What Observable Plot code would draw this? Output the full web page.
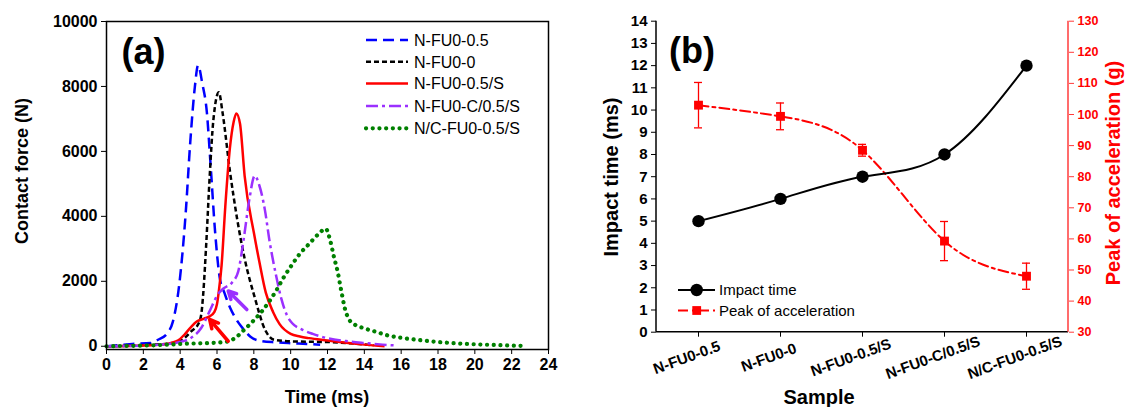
<!DOCTYPE html>
<html><head><meta charset="utf-8">
<script src="https://cdn.jsdelivr.net/npm/d3@7"></script>
<script src="https://cdn.jsdelivr.net/npm/@observablehq/plot@0.6"></script>
<style>
body{margin:0;background:#fff;}
#wrap{position:relative;width:1126px;height:407px;overflow:hidden;font-family:"Liberation Sans",Arial,sans-serif;}
#wrap svg{position:absolute;top:0;}
</style></head><body><div id="wrap"></div>
<script>
// ---------- Panel (a): contact force vs time ----------
const seriesNames = ["N-FU0-0.5", "N-FU0-0", "N-FU0-0.5/S", "N-FU0-C/0.5/S", "N/C-FU0-0.5/S"];

const timeBlue  = [0, 1.4, 2.4, 2.8, 3.3, 3.6, 3.95, 4.3, 4.55, 4.8, 4.97, 5.2, 5.45, 5.65, 5.9, 6.15, 6.4, 6.7, 7.0, 7.4, 7.8, 8.4, 9.2, 10.2, 11.6];
const forceBlue = [0, 70, 100, 200, 400, 750, 1900, 4100, 6300, 8000, 8650, 8100, 7200, 5600, 3500, 2100, 1650, 1200, 870, 550, 300, 160, 120, 90, 50];

const timeBlack  = [0, 1.5, 2.5, 3.3, 4.0, 4.6, 5.0, 5.15, 5.25, 5.42, 5.6, 5.8, 6.1, 6.3, 6.7, 7.1, 7.5, 8.05, 8.6, 9.1, 10, 11, 12, 13, 14.5];
const forceBlack = [0, 20, 50, 80, 160, 460, 700, 1000, 1600, 3200, 5200, 6950, 7820, 7200, 5400, 3900, 2700, 1500, 520, 200, 150, 140, 130, 100, 30];

const timeRed  = [0, 2, 3, 3.5, 3.9, 4.25, 4.6, 4.9, 5.3, 5.6, 5.85, 6.0, 6.1, 6.25, 6.45, 6.7, 6.9, 7.05, 7.25, 7.5, 8.0, 8.3, 8.65, 9.05, 9.4, 10.0, 10.5, 11.0, 12.0, 13.0, 14.0, 15.1];
const forceRed = [0, 20, 50, 100, 180, 370, 600, 760, 850, 920, 1050, 1300, 1700, 2500, 4300, 6100, 6900, 7170, 6850, 5250, 3500, 2600, 1650, 1050, 680, 380, 300, 250, 180, 110, 50, 0];

const timePurple  = [0, 2, 3, 3.7, 4.2, 4.6, 5.15, 5.6, 6.05, 6.35, 6.8, 7.15, 7.45, 7.75, 8.05, 8.3, 8.6, 8.85, 9.2, 9.5, 9.8, 10.1, 10.6, 11.2, 11.9, 13.0, 14.0, 15.0, 15.8];
const forcePurple = [0, 20, 50, 100, 160, 260, 570, 1080, 1600, 1780, 1950, 2300, 3300, 4500, 5250, 4950, 4200, 3250, 2200, 1450, 950, 700, 520, 380, 260, 160, 100, 50, 20];

const timeGreen  = [0, 1, 2, 3, 4, 5, 6, 6.6, 7.0, 7.5, 8.0, 8.4, 8.8, 9.2, 9.6, 10.0, 10.5, 11.0, 11.5, 11.9, 12.15, 12.35, 12.55, 12.75, 12.95, 13.2, 13.5, 13.9, 14.6, 15.3, 16.0, 17.0, 18.0, 19.0, 20.0, 21.0, 22.0, 22.8];
const forceGreen = [0, 10, 20, 40, 70, 90, 110, 150, 260, 520, 800, 1050, 1350, 1700, 2100, 2450, 2850, 3150, 3450, 3620, 3250, 2750, 2300, 1700, 1150, 800, 660, 570, 450, 330, 260, 190, 130, 90, 60, 40, 20, 10];

const timeTicks  = [0, 2, 4, 6, 8, 10, 12, 14, 16, 18, 20, 22, 24];
const forceTicks = [0, 2000, 4000, 6000, 8000, 10000];

// annotation arrows (data coordinates: time, force)
const arrowTail = [[6.61, 154], [7.62, 1130]];
const arrowHead = [[5.6, 825], [6.61, 1700]];

// ---------- Panel (b): impact time & peak acceleration ----------
const samples     = ["N-FU0-0.5", "N-FU0-0", "N-FU0-0.5/S", "N-FU0-C/0.5/S", "N/C-FU0-0.5/S"];
const impactTime  = [5, 6, 7, 8, 12];
const peakAccel   = [103, 99.4, 88.5, 59.3, 48];
const peakErr     = [7.3, 4.3, 1.9, 6.3, 4.2];
const impactTicks = [0,1,2,3,4,5,6,7,8,9,10,11,12,13,14];
const peakTicks   = [30,40,50,60,70,80,90,100,110,120,130];

// ---------- styles ----------
const FONT = '"Liberation Sans", Arial, sans-serif';
const PURPLE = "#9b30ff", GREEN = "#008000";
const curveStyles = [
  {t: timeBlue,   f: forceBlue,   color: "#0000ff", dash: "11,6",      width: 2.5, cap: "butt"},
  {t: timeBlack,  f: forceBlack,  color: "#000000", dash: "5,3",       width: 2.5, cap: "butt"},
  {t: timeRed,    f: forceRed,    color: "#ff0000", dash: null,        width: 2.5, cap: "butt"},
  {t: timePurple, f: forcePurple, color: PURPLE,    dash: "12,4,3,4",  width: 2.5, cap: "butt"},
  {t: timeGreen,  f: forceGreen,  color: GREEN,     dash: "0.1,6.6",   width: 4.2, cap: "round"}
];
const arrowColors = ["#ff0000", PURPLE];

const wrap = d3.select("#wrap");

// ---------- Panel (a) ----------
const dataA = curveStyles.map((c, k) => c.t.map((t, i) => ({series: seriesNames[k], t, f: c.f[i]})));
const arrows = arrowTail.map((a, i) => ({t1: a[0], f1: a[1], t2: arrowHead[i][0], f2: arrowHead[i][1]}));

const plotA = Plot.plot({
  width: 560, height: 407,
  marginLeft: 106, marginRight: 12, marginTop: 21, marginBottom: 58,
  x: {domain: [0, 24]},
  y: {domain: [-100, 10000]},
  style: {fontFamily: FONT, fontSize: "16px", fontWeight: "bold", color: "black", background: "transparent", overflow: "visible"},
  marks: [
    ...curveStyles.map((c, k) => Plot.line(dataA[k], {
      x: "t", y: "f", stroke: c.color, strokeWidth: c.width,
      strokeDasharray: c.dash || undefined, strokeLinecap: c.cap, curve: "monotone-x"
    })),
    ...arrows.map((a, i) => Plot.arrow([a], {x1: "t1", y1: "f1", x2: "t2", y2: "f2",
      stroke: arrowColors[i], strokeWidth: 3.5, headLength: 10, headAngle: 55})),
    Plot.frame({stroke: "black", strokeWidth: 1.5}),
    Plot.axisX({ticks: timeTicks, tickSize: 5, tickPadding: 4, label: null, tickFormat: d => String(d)}),
    Plot.axisY({ticks: forceTicks, tickSize: 5, tickPadding: 4, label: null, tickFormat: d => String(d)})
  ]
});
plotA.style.left = "0px";
wrap.node().appendChild(plotA);

// ---------- Panel (b) ----------
const toLeft = v => (v - peakTicks[0]) / (peakTicks[peakTicks.length - 1] - peakTicks[0]) * impactTicks[impactTicks.length - 1];
const dataB = samples.map((s, i) => ({
  s, it: impactTime[i], pk: toLeft(peakAccel[i]),
  lo: toLeft(peakAccel[i] - peakErr[i]), hi: toLeft(peakAccel[i] + peakErr[i])
}));

const axisLines = (index, scales, values, dims) => {
  const {width, height, marginLeft, marginRight, marginTop, marginBottom} = dims;
  const x0 = marginLeft, x1 = width - marginRight, y0 = marginTop, y1 = height - marginBottom;
  const g = d3.create("svg:g").attr("fill", "none");
  g.append("line").attr("x1", x0).attr("x2", x0).attr("y1", y0).attr("y2", y1).attr("stroke", "black").attr("stroke-width", 1.5);
  g.append("line").attr("x1", x0).attr("x2", x1).attr("y1", y1).attr("y2", y1).attr("stroke", "black").attr("stroke-width", 1.5);
  g.append("line").attr("x1", x1).attr("x2", x1).attr("y1", y0).attr("y2", y1).attr("stroke", "#ff3b3b").attr("stroke-width", 1.5);
  return g.node();
};

const plotB = Plot.plot({
  width: 566, height: 407,
  marginLeft: 96, marginRight: 58, marginTop: 20.7, marginBottom: 75.3,
  x: {type: "band", domain: samples, padding: 0},
  y: {domain: [0, 14]},
  style: {fontFamily: FONT, fontSize: "15px", fontWeight: "bold", color: "black", background: "transparent", overflow: "visible"},
  marks: [
    Plot.ruleX(dataB, {x: "s", y1: "lo", y2: "hi", stroke: "#ff0000", strokeWidth: 1.3}),
    Plot.tickY(dataB, {x: "s", y: "lo", stroke: "#ff0000", strokeWidth: 1.3, insetLeft: 37, insetRight: 37}),
    Plot.tickY(dataB, {x: "s", y: "hi", stroke: "#ff0000", strokeWidth: 1.3, insetLeft: 37, insetRight: 37}),
    Plot.line(dataB, {x: "s", y: "pk", stroke: "#ff0000", strokeWidth: 2, strokeDasharray: "10,4,3,4", curve: "natural"}),
    Plot.line(dataB, {x: "s", y: "it", stroke: "black", strokeWidth: 2, curve: "natural"}),
    Plot.dot(dataB, {x: "s", y: "pk", symbol: "square", r: 5, fill: "#ff0000", stroke: "none"}),
    Plot.dot(dataB, {x: "s", y: "it", r: 6.2, fill: "black", stroke: "none"}),
    axisLines,
    Plot.axisY({ticks: impactTicks, tickSize: 5, tickPadding: 4, label: null, tickFormat: d => String(d)}),
    Plot.axisY({anchor: "right", ticks: peakTicks.map(toLeft), tickSize: 5, tickPadding: 4, label: null,
      tickFormat: d => String(Math.round(peakTicks[0] + d / impactTicks[impactTicks.length - 1] * (peakTicks[peakTicks.length - 1] - peakTicks[0]))),
      color: "#ff0000", stroke: "#ff3b3b", fill: "#ff0000", fontSize: 12.5}),
    Plot.axisX({tickSize: 5, label: null, tickFormat: () => ""}),
    Plot.text(samples, {x: d => d, frameAnchor: "bottom", dx: -10, dy: 30, rotate: -20, fontSize: 15, fontWeight: "bold", fill: "black"})
  ]
});
plotB.style.left = "560px";
wrap.node().appendChild(plotB);

// ---------- overlay: titles, panel labels, legends ----------
const ov = wrap.append("svg").attr("width", 1126).attr("height", 407)
  .style("left", "0px").style("font-family", FONT).style("pointer-events", "none");

function txt(s, x, y, size, weight, fill, rot, anchor) {
  const t = ov.append("text").text(s).attr("font-size", size).attr("font-weight", weight)
    .attr("fill", fill).attr("text-anchor", anchor || "middle");
  if (rot) t.attr("transform", `translate(${x},${y}) rotate(${rot})`);
  else t.attr("x", x).attr("y", y);
  return t;
}
txt("(a)", 143.5, 64, 36, "bold", "black");
txt("(b)", 692, 63, 36, "bold", "black");
txt("Contact force (N)", 28, 171, 18, "bold", "black", -90);
txt("Time (ms)", 327, 402.5, 18, "bold", "black");
txt("Impact time (ms)", 617.5, 177, 20, "bold", "black", -90);
txt("Peak of acceleration (g)", 1120, 173, 20, "bold", "#ff0000", -90);
txt("Sample", 819, 403.5, 20, "bold", "black");

// legend (a)
const legRowsA = [40, 61.7, 83.5, 106, 128.3];
seriesNames.forEach((name, k) => {
  const c = curveStyles[k], y = legRowsA[k];
  ov.append("line").attr("x1", 366).attr("x2", 408).attr("y1", y).attr("y2", y)
    .attr("stroke", c.color).attr("stroke-width", c.width)
    .attr("stroke-dasharray", c.dash || null).attr("stroke-linecap", c.cap);
  txt(name, 414, y + 5.8, 16, "normal", "black", 0, "start");
});

// legend (b)
const legRowsB = [290, 310.5];
[["Impact time", "black", null, "circle"], ["Peak of acceleration", "#ff0000", "10,4,3,4", "square"]].forEach((d, i) => {
  const y = legRowsB[i];
  ov.append("line").attr("x1", 678).attr("x2", 715).attr("y1", y).attr("y2", y)
    .attr("stroke", d[1]).attr("stroke-width", 2).attr("stroke-dasharray", d[2]);
  if (d[3] === "circle") ov.append("circle").attr("cx", 696.7).attr("cy", y).attr("r", 6.2).attr("fill", d[1]);
  else ov.append("rect").attr("x", 696.7 - 4.4).attr("y", y - 4.4).attr("width", 8.8).attr("height", 8.8).attr("fill", d[1]);
  txt(d[0], 719, y + 5.3, 15, "normal", "black", 0, "start");
});
</script></body></html>
